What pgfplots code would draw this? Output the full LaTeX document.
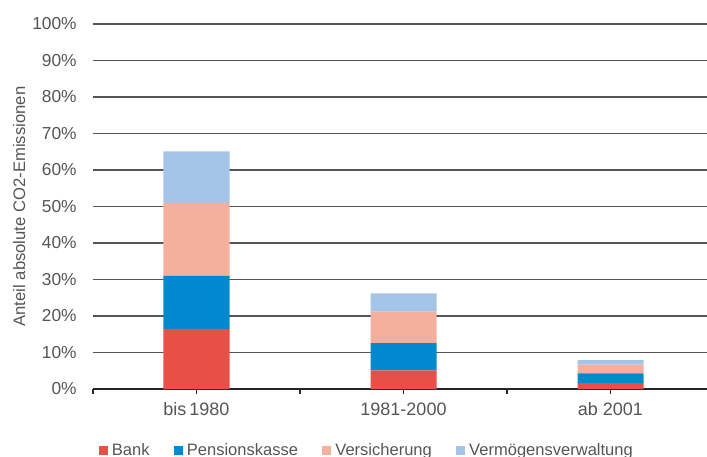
\documentclass[border=0pt]{standalone}
\usepackage{pgfplots}
\pgfplotsset{compat=1.18}
\usepackage{fontspec}
\setmainfont{Liberation Sans}

\definecolor{bankred}{HTML}{E84F47}
\definecolor{pkblue}{HTML}{0089CF}
\definecolor{verssalmon}{HTML}{F4AF9D}
\definecolor{vvlblue}{HTML}{A4C4E8}
\definecolor{gridgray}{HTML}{555555}
\definecolor{txtgray}{HTML}{555555}

\pgfplotsset{sqleg/.style={legend image code/.code={\fill[##1] (0pt,-3.4pt) rectangle (6.75pt,3.4pt);}}}

\begin{document}
\begin{tikzpicture}
\useasboundingbox (-69.75pt,-51pt) rectangle (460.5pt,291.75pt);
\clip (-69.75pt,-51pt) rectangle (460.5pt,291.75pt);
\begin{axis}[
    at={(0,0)}, anchor=south west,
    scale only axis,
    width=465.75pt, height=273.75pt,
    ybar stacked,
    bar width=49.5pt,
    xmin=-0.5, xmax=2.5,
    ymin=0, ymax=100,
    xtick={0,1,2},
    xticklabels={bis\,1980, 1981-2000, ab 2001},
    minor xtick={-0.5,0.5,1.5,2.5},
    ytick={0,10,...,100},
    yticklabels={0\%,10\%,20\%,30\%,40\%,50\%,60\%,70\%,80\%,90\%,100\%},
    axis x line*=bottom,
    axis y line*=left,
    y axis line style={draw=none},
    x axis line style={line width=1.1pt, black!85},
    ytick style={draw=none},
    xtick style={line width=0.8pt, black!85},
    minor tick style={line width=0.8pt, black!85},
    tick align=outside,
    major tick length=3.75pt,
    minor tick length=3.75pt,
    ymajorgrids,
    major grid style={line width=1.1pt, gridgray},
    yticklabel style={font=\fontsize{13}{15}\selectfont, text=txtgray, xshift=-5pt},
    xticklabel style={font=\fontsize{13.5}{16}\selectfont, text=txtgray, yshift=-3pt},
    ylabel={Anteil absolute CO2-Emissionen},
    every axis y label/.style={at={(axis description cs:-0.119,0.5)}, rotate=90, anchor=center, font=\fontsize{12.5}{15}\selectfont, text=txtgray},
    legend columns=4,
    legend style={at={(axis description cs:0.002,-0.168)}, anchor=west, draw=none, fill=none,
        font=\fontsize{12.4}{15}\selectfont, text=txtgray,
        nodes={inner sep=1.5pt},
        /tikz/every odd column/.append style={column sep=1.75pt},
        /tikz/every even column/.append style={column sep=16.5pt}},
]
\addplot[fill=bankred, draw=none, sqleg] coordinates {(0,16.5) (1,5.1) (2,1.6)};
\addplot[fill=pkblue, draw=none, sqleg] coordinates {(0,14.5) (1,7.5) (2,2.7)};
\addplot[fill=verssalmon, draw=none, sqleg] coordinates {(0,20.0) (1,8.6) (2,2.4)};
\addplot[fill=vvlblue, draw=none, sqleg] coordinates {(0,14.1) (1,5.0) (2,1.2)};
\legend{Bank, Pensionskasse, Versicherung, Vermögensverwaltung}
\end{axis}
\end{tikzpicture}
\end{document}
